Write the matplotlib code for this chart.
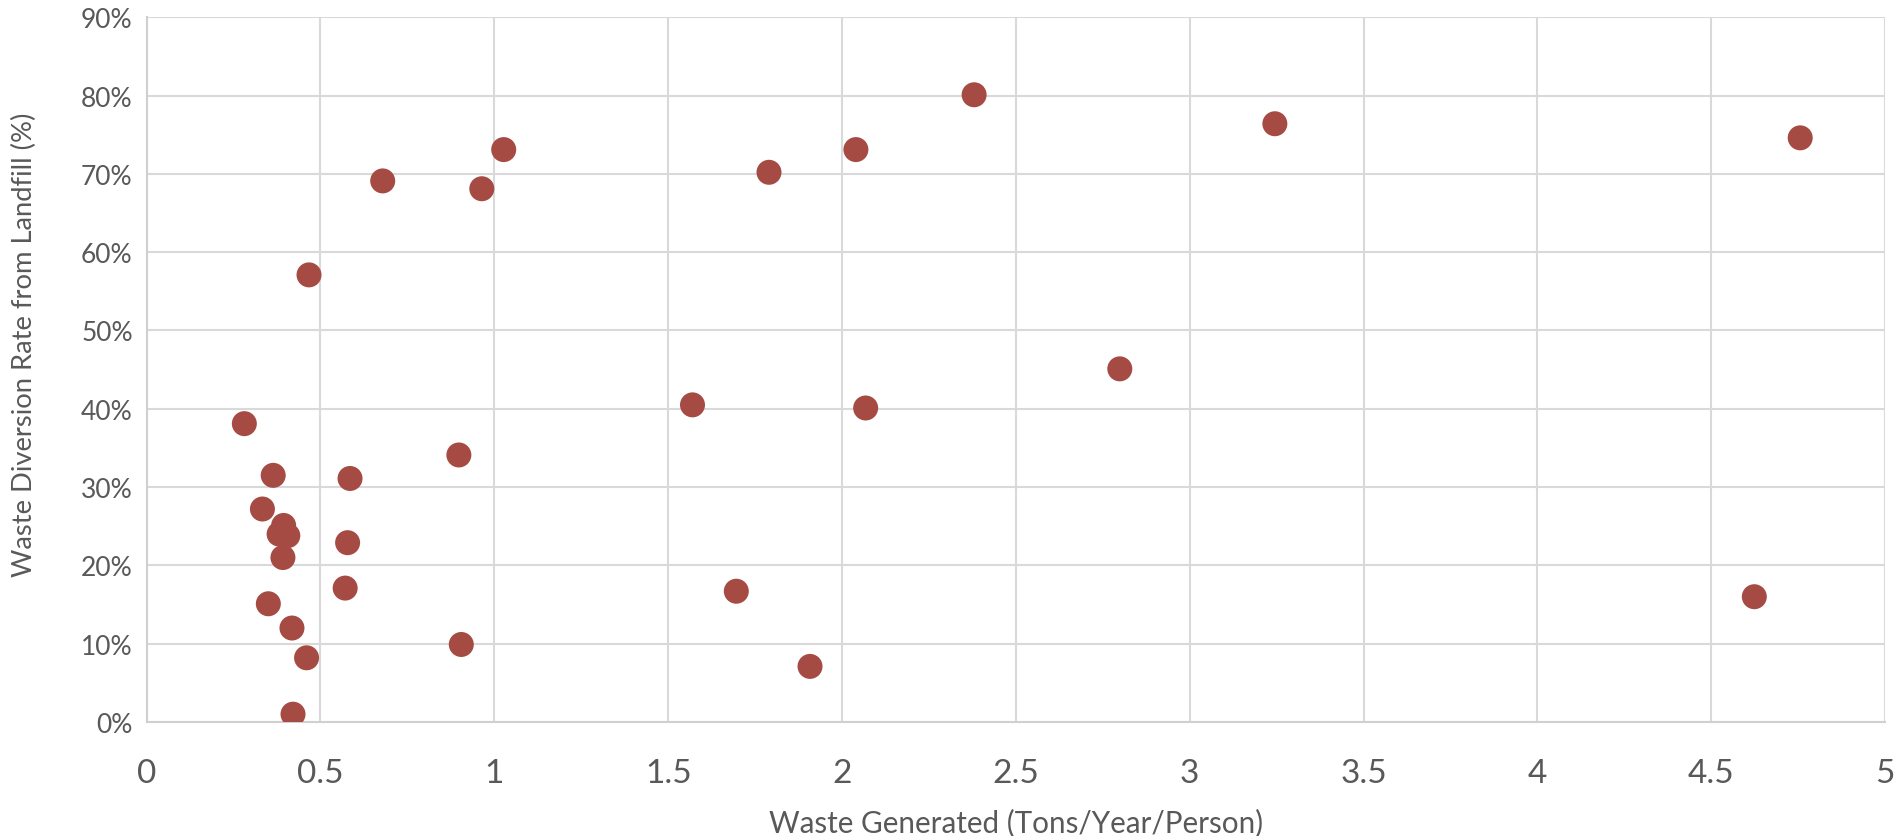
import matplotlib.pyplot as plt
from matplotlib.ticker import FuncFormatter, MultipleLocator

# waste generated (tons / year / person) vs diversion rate (%)
waste_generated = [
    2.38, 3.245, 4.756, 1.027, 2.040, 1.790, 0.679, 0.964, 0.467,
    2.799, 1.570, 2.068, 0.281, 0.898, 0.364, 0.585, 0.333, 0.394,
    0.381, 0.406, 0.392, 0.578, 0.571, 0.350, 0.418, 0.460, 0.421,
    0.905, 1.696, 1.908, 4.624,
]
diversion_rate = [
    80.1, 76.4, 74.6, 73.1, 73.1, 70.2, 69.1, 68.1, 57.1,
    45.1, 40.5, 40.1, 38.1, 34.1, 31.5, 31.1, 27.2, 25.1,
    24.0, 23.8, 21.0, 22.9, 17.1, 15.1, 12.0, 8.2, 1.0,
    9.9, 16.7, 7.1, 16.0,
]

text_color = "#595959"
plt.rcParams["font.family"] = ["Lato", "DejaVu Sans"]

fig = plt.figure(figsize=(18.97, 8.37), dpi=100)
ax = fig.add_axes([0.0773, 0.1362, 0.9164, 0.842])

ax.scatter(waste_generated, diversion_rate, s=324, color="#A64B43",
           edgecolors="none", zorder=3)

ax.set_xlim(0, 5)
ax.set_ylim(0, 90)
ax.xaxis.set_major_locator(MultipleLocator(0.5))
ax.yaxis.set_major_locator(MultipleLocator(10))
ax.xaxis.set_major_formatter(FuncFormatter(lambda v, _: f"{v:g}"))
ax.yaxis.set_major_formatter(FuncFormatter(lambda v, _: f"{v:.0f}%"))

ax.grid(True, color="#D9D9D9", linewidth=1.5, zorder=0)
ax.set_axisbelow(True)
for side in ("top", "right"):
    ax.spines[side].set_visible(False)
for side in ("left", "bottom"):
    ax.spines[side].set_color("#D0D0D0")
    ax.spines[side].set_linewidth(1.5)

ax.tick_params(axis="both", length=0, colors=text_color)
ax.tick_params(axis="y", labelsize=19, pad=10)
ax.tick_params(axis="x", labelsize=24, pad=26)

ax.set_xlabel("Waste Generated (Tons/Year/Person)", fontsize=21.3,
              color=text_color, labelpad=14)
ax.set_ylabel("Waste Diversion Rate from Landfill (%)", fontsize=19.7,
              color=text_color)
# Excel sits the axis title a little above the plot's middle
ax.yaxis.set_label_coords(-0.0631, 0.536)

fig.savefig("out.png", dpi=100)
plt.close(fig)
